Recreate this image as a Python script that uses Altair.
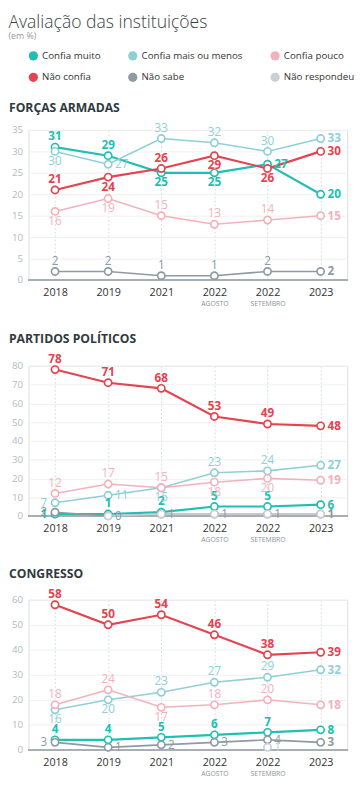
import altair as alt
import pandas as pd

FONT = "Open Sans"

periodos = ["2018", "2019", "2021", "2022a", "2022s", "2023"]
anos = ["2018", "2019", "2021", "2022", "2022", "2023"]
meses = ["", "", "", "AGOSTO", "SETEMBRO", ""]

series = ["Confia muito", "Confia mais ou menos", "Confia pouco",
          "Não confia", "Não sabe", "Não respondeu"]
cores = ["#21bfb2", "#8fd0d7", "#f3b2bb", "#e4434f", "#8e9aa4", "#cbd0d6"]
fortes = ["Confia muito", "Não confia"]

# Forças Armadas
fa_muito = [31, 29, 25, 25, 27, 20]
fa_mais = [30, 27, 33, 32, 30, 33]
fa_pouco = [16, 19, 15, 13, 14, 15]
fa_nao = [21, 24, 26, 29, 26, 30]
fa_sabe = [2, 2, 1, 1, 2, 2]
fa_resp = [None, None, None, None, None, None]

# Partidos políticos
pp_muito = [1, 1, 2, 5, 5, 6]
pp_mais = [7, 11, 15, 23, 24, 27]
pp_pouco = [12, 17, 15, 18, 20, 19]
pp_nao = [78, 71, 68, 53, 49, 48]
pp_sabe = [2, 0, 1, 1, 1, 1]
pp_resp = [None, 0, 1, 1, 1, 1]

# Congresso
cg_muito = [4, 4, 5, 6, 7, 8]
cg_mais = [16, 20, 23, 27, 29, 32]
cg_pouco = [18, 24, 17, 18, 20, 18]
cg_nao = [58, 50, 54, 46, 38, 39]
cg_sabe = [3, 1, 2, 3, 4, 3]
cg_resp = [None, None, None, None, 1, None]

# label placement (a above, b below, l left, r right, R last, n none)
fa_pos = ["aabbrR", "braaaR", "bbaaaR", "ababbR", "aaaaaR", "nnnnnn"]
pp_pos = ["laaaaR", "lrbaaR", "aaabbR", "aaaaaR", "lrrrrR", "nnnnnn"]
cg_pos = ["aaaaaR", "bbaaaR", "aabaaR", "aaaaaR", "lrrrrR", "nnnnrn"]


def ternary(keys, vals):
    expr = "''"
    for k, v in reversed(list(zip(keys, vals))):
        expr = f"datum.value == '{k}' ? '{v}' : ({expr})"
    return expr


color_scale = alt.Scale(domain=series, range=cores)
color_plain = alt.Color("serie:N", scale=color_scale, legend=None)
color_leg = alt.Color(
    "serie:N", scale=color_scale,
    legend=alt.Legend(
        orient="top", columns=3, title=None, symbolType="circle",
        symbolSize=90, symbolStrokeWidth=0, symbolOpacity=1, labelFontSize=10,
        labelColor="#333333", labelFont=FONT, columnPadding=28,
        rowPadding=12, offset=19, labelOffset=4,
    ),
)

label_styles = {
    "a": dict(dy=-7, baseline="alphabetic", align="center"),
    "b": dict(dy=5, baseline="top", align="center"),
    "l": dict(dx=-8, baseline="middle", align="right"),
    "r": dict(dx=7, baseline="middle", align="left"),
    "R": dict(dx=7, baseline="middle", align="left"),
}


def panel(titulo, ymax, passo, valores, posicoes, legenda=False):
    rows = []
    for s, vals, pos in zip(series, valores, posicoes):
        for i, (p, v) in enumerate(zip(periodos, vals)):
            if v is None:
                continue
            rows.append(dict(periodo=p, serie=s, valor=v, pos=pos[i],
                             forte=s in fortes, sw=2.2 if s in fortes else 1.6))
    df = pd.DataFrame(rows)

    xs = alt.Scale(type="point", padding=0.5)
    ys = alt.Scale(domain=[0, ymax], nice=False)
    y_axis = alt.Axis(values=list(range(0, ymax + 1, passo)), grid=True,
                      gridColor="#eef0f2", domain=False, ticks=False,
                      labelColor="#b3bbc2", labelFontSize=10, labelFont=FONT,
                      labelPadding=6, minExtent=20, labelOverlap=False)

    xe = alt.X("periodo:N", sort=periodos, scale=xs, axis=None)
    ye = alt.Y("valor:Q", scale=ys, title=None, axis=y_axis)

    layers = []
    grid = alt.Chart(df).mark_line(opacity=0).encode(
        x=alt.X("periodo:N", sort=periodos, scale=xs, title=None,
                axis=alt.Axis(labelExpr=ternary(periodos, anos), grid=True,
                              gridDash=[2, 2], gridColor="#d9dde0", domain=False,
                              ticks=False, labelFontSize=11, labelColor="#333333",
                              labelFont=FONT, labelPadding=7, labelAngle=0,
                              orient="bottom")),
        y=ye,
    )
    layers.append(grid)
    if legenda:
        layers.append(alt.Chart(df).mark_circle(opacity=0, size=1).encode(
            x=xe, y=ye, color=color_leg))
    sub = alt.Chart(df).mark_line(opacity=0).encode(
        x=alt.X("periodo:N", sort=periodos, scale=xs, title=None,
                axis=alt.Axis(labelExpr=ternary(periodos, meses), grid=False,
                              domain=False, ticks=False, labelFontSize=7,
                              labelColor="#8a939b", labelFont=FONT,
                              labelPadding=20, labelAngle=0, orient="bottom")),
        y=ye,
    )
    base0 = alt.Chart(df).mark_rule(color="#a9afb5", strokeWidth=1.6).encode(
        y=alt.datum(0, scale=ys, title=None, axis=y_axis))

    lines = alt.Chart(df).mark_line().encode(
        x=xe, y=ye, color=color_plain,
        strokeWidth=alt.StrokeWidth("sw:Q", scale=None))
    points = alt.Chart(df).mark_point(
        shape="circle", size=55, strokeWidth=1.7, fill="white",
        fillOpacity=1, opacity=1).encode(x=xe, y=ye, color=color_plain)

    texts = []
    for code, st in label_styles.items():
        for forte in (True, False):
            bold = code == "R" or forte
            t = alt.Chart(df).transform_filter(
                (alt.datum.pos == code) & (alt.datum.forte == forte)
            ).mark_text(fontSize=12, font=FONT,
                        fontWeight="bold" if bold else "normal", **st).encode(
                x=xe, y=ye, text=alt.Text("valor:Q"), color=color_plain)
            texts.append(t)

    layers += [sub, base0, lines, points] + texts
    return alt.layer(*layers).resolve_axis(x="independent").properties(
        width=327, height=154,
        title=alt.TitleParams(titulo, anchor="start", fontSize=12.5,
                              fontWeight="bold", color="#2f3a40", font=FONT,
                              offset=8))


c1 = panel("FORÇAS ARMADAS", 35, 5,
           [fa_muito, fa_mais, fa_pouco, fa_nao, fa_sabe, fa_resp], fa_pos, True)
c2 = panel("PARTIDOS POLÍTICOS", 80, 10,
           [pp_muito, pp_mais, pp_pouco, pp_nao, pp_sabe, pp_resp], pp_pos)
c3 = panel("CONGRESSO", 60, 10,
           [cg_muito, cg_mais, cg_pouco, cg_nao, cg_sabe, cg_resp], cg_pos)

chart = alt.vconcat(c1, c2, c3, spacing=25).properties(
    padding={"left": 0, "top": -4, "right": 0, "bottom": 0},
    title=alt.TitleParams("Avaliação das instituições", subtitle="(em %)",
                          anchor="start", fontSize=18, fontWeight=300,
                          color="#3a3f44", font=FONT, subtitleFont=FONT,
                          subtitleFontSize=9, subtitleColor="#999999",
                          subtitlePadding=1, offset=10),
).configure_view(stroke=None).configure(background="white")

chart.save("out.html", embed_options={"renderer": "svg", "actions": False})
